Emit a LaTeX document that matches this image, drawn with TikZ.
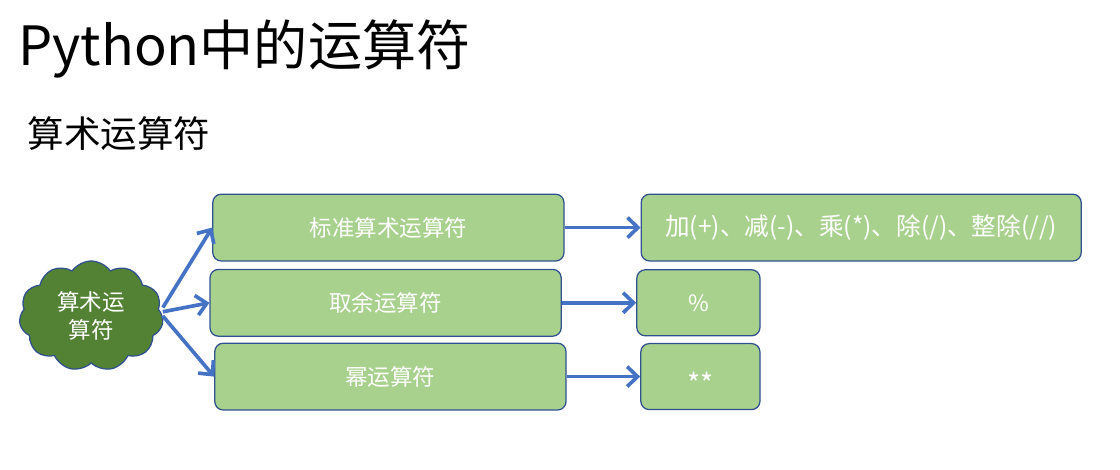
\documentclass[tikz,border=0pt]{standalone}
\usepackage{fontspec}
\setmainfont{Noto Sans CJK SC}
\usetikzlibrary{shapes.symbols,arrows.meta}
\definecolor{boxfill}{HTML}{A9D18E}
\definecolor{boxline}{HTML}{2F528F}
\definecolor{cloudfill}{HTML}{548235}
\definecolor{arrowblue}{HTML}{4472C4}

\begin{document}
\begin{tikzpicture}[
  opbox/.style={rectangle, rounded corners=6pt, draw=boxline, line width=0.9pt, fill=boxfill, minimum height=1.67cm, text=white, font=\fontsize{16}{19}\selectfont},
  puff/.style={cloud, cloud puffs=11, cloud puff arc=110, aspect=1.4, draw=boxline, line width=0.9pt, fill=cloudfill, minimum width=3.6cm, minimum height=2.75cm, inner sep=0pt, text=white, align=center, font=\fontsize{16}{20}\selectfont},
  arr/.style={draw=arrowblue, line width=2.6pt, -{Straight Barb[length=2.6mm, width=5mm, line width=2.6pt]}}
]
  \useasboundingbox (0,0) rectangle (28,11.75);
  % headings
  \node[anchor=base west, inner sep=0pt, font=\fontsize{38.5}{44}\selectfont] (title) at (0.45,10.1) {Python中的运算符};
  \node[anchor=base west, inner sep=0pt, font=\fontsize{26}{30}\selectfont] (sub) at (0.68,8.05) {算术运算符};
  % source cloud
  \node[puff] (arith) at (2.28,3.85) {算术运\\算符};
  % operator kinds
  \node[opbox, minimum width=8.78cm] (std) at (9.71,6.06) {标准算术运算符};
  \node[opbox, minimum width=8.78cm] (mod) at (9.64,4.18) {取余运算符};
  \node[opbox, minimum width=8.78cm] (pow) at (9.76,2.335) {幂运算符};
  % operators
  \node[opbox, minimum width=11cm, font=\fontsize{17.5}{20}\selectfont] (stdops) at (21.53,6.06) {加(+)、减(-)、乘(*)、除(/)、整除(//)};
  \node[opbox, minimum width=3.08cm, minimum height=1.65cm] (modops) at (17.46,4.18) {\%};
  \node[opbox, minimum width=2.98cm, minimum height=1.65cm, font=\fontsize{20}{20}\selectfont] (powops) at (17.51,2.335) {\raisebox{-0.5em}[0.3em][0em]{**}};
  % connectors
  \draw[arr] ([yshift=6pt]arith.east) -- (std.west);
  \draw[arr] ([yshift=3pt]arith.east) -- (mod.west);
  \draw[arr] (arith.east) -- (pow.west);
  \draw[arr] (std.east) -- (stdops.west);
  \draw[arr] (mod.east) -- (modops.west);
  \draw[arr] (pow.east) -- (powops.west);
\end{tikzpicture}
\end{document}
